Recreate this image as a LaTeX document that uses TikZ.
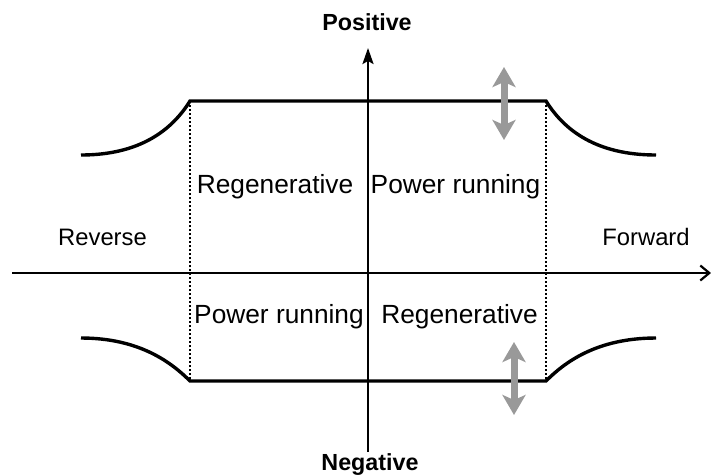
\documentclass[tikz,border=0pt]{standalone}
\usepackage{fontspec}
\setmainfont{Liberation Sans}
\usetikzlibrary{arrows.meta}
\definecolor{arrgray}{HTML}{999999}
\tikzset{
  bound/.style={line width=3.4pt},
  axisline/.style={line width=2.2pt},
  divider/.style={line width=2pt, dash pattern=on 2pt off 2pt},
  adjust/.style={line width=7pt, arrgray, {Stealth[length=20pt,width=23pt,inset=5pt]}-{Stealth[length=20pt,width=23pt,inset=5pt]}},
  inner/.style={anchor=base, inner sep=0pt, font=\fontsize{26.3}{31}\selectfont},
  outer/.style={anchor=base, inner sep=0pt, font=\fontsize{23.8}{28}\selectfont},
  title/.style={anchor=base, inner sep=0pt, font=\fontsize{23.3}{28}\selectfont\bfseries}
}
\begin{document}
\begin{tikzpicture}[x=1pt,y=-1pt]
\useasboundingbox (0,0) rectangle (711,475);
% coordinates
\coordinate (xl) at (12,273);
\coordinate (xr) at (711,273);
\coordinate (yb) at (368,452);
\coordinate (yt) at (368,48);
\coordinate (tl) at (190,101);
\coordinate (tr) at (546,101);
\coordinate (bl) at (190,381);
\coordinate (br) at (546,381);
\coordinate (tle) at (81,155);
\coordinate (tre) at (656,155);
\coordinate (ble) at (81,338);
\coordinate (bre) at (656,338);
\coordinate (a1t) at (504,67);
\coordinate (a1b) at (504,140);
\coordinate (a2t) at (514,342);
\coordinate (a2b) at (514,415);
% dotted dividers
\draw[divider] (tl) -- (bl);
\draw[divider] (tr) -- (br);
% axes
\draw[axisline, -{Straight Barb[length=9pt,width=15pt,line width=2.2pt]}] (xl) -- (xr);
\draw[axisline, -{Stealth[length=16pt,width=11pt,inset=3pt]}] (yb) -- (yt);
% boundaries
\draw[bound] (tle) .. controls (140,155) and (172,130) .. (tl) -- (tr) .. controls (564,130) and (596,155) .. (tre);
\draw[bound] (ble) .. controls (140,338) and (172,363) .. (bl) -- (br) .. controls (564,363) and (596,338) .. (bre);
% gray arrows
\draw[adjust] (a1t) -- (a1b);
\draw[adjust] (a2t) -- (a2b);
% labels
\node[title] (pos) at (367,30) {Positive};
\node[title] (neg) at (370,470) {Negative};
\node[outer] (rev) at (102.5,245) {Reverse};
\node[outer] (fwd) at (646,245) {Forward};
\node[inner] (q2) at (275,193) {Regenerative};
\node[inner] (q1) at (455.5,193) {Power running};
\node[inner] (q3) at (279,323) {Power running};
\node[inner] (q4) at (459.5,323) {Regenerative};
\end{tikzpicture}
\end{document}
